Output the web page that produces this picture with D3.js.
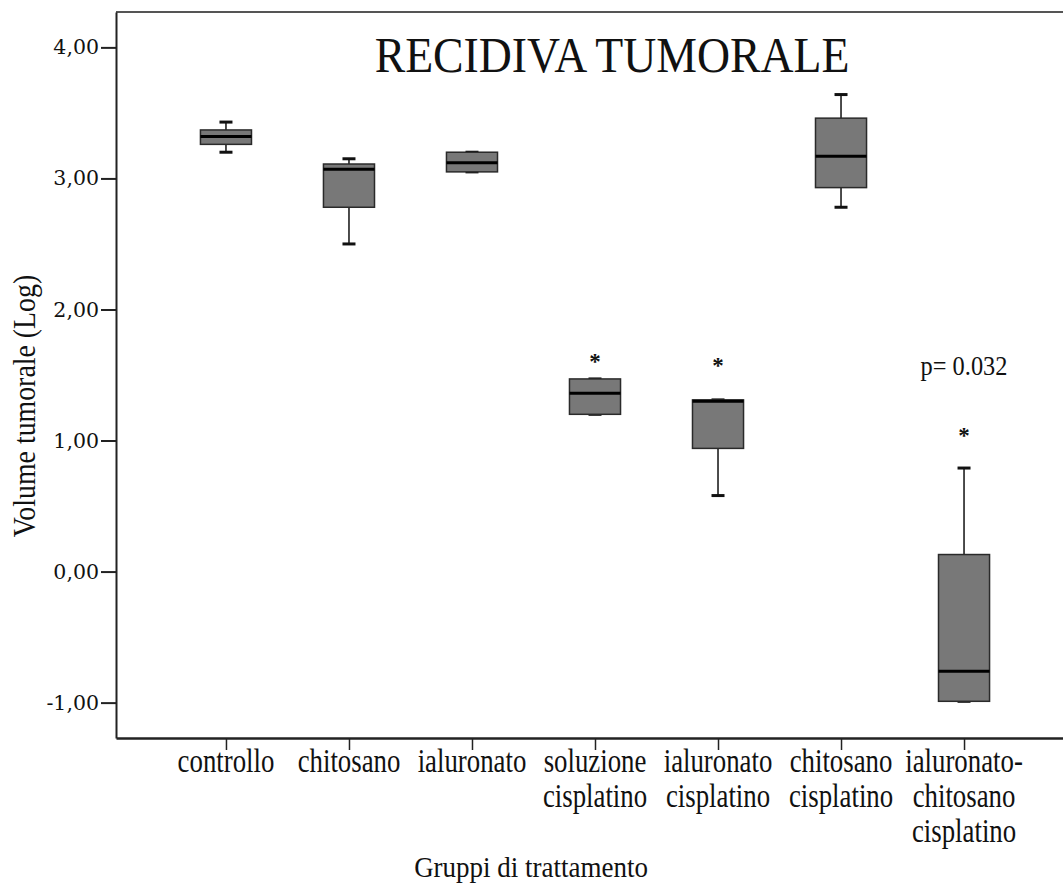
<!DOCTYPE html>
<html>
<head>
<meta charset="utf-8">
<script src="https://cdn.jsdelivr.net/npm/d3@7"></script>
<style>
  html, body { margin: 0; padding: 0; background: #fff; }
  svg { display: block; }
  text { font-family: "Liberation Serif", "Times New Roman", serif; fill: #111; }
</style>
</head>
<body>
<svg id="chart" width="1063" height="883"></svg>
<script>
// Treatment groups (each entry = lines of the axis label)
const categories = [
  ["controllo"],
  ["chitosano"],
  ["ialuronato"],
  ["soluzione", "cisplatino"],
  ["ialuronato", "cisplatino"],
  ["chitosano", "cisplatino"],
  ["ialuronato-", "chitosano", "cisplatino"]
];
const groupNames = categories.map(d => d.join(" "));

// Box plot statistics per group (log tumour volume)
const whiskerLow  = [3.20, 2.50, 3.05, 1.20, 0.58, 2.78, -0.99];
const quartile1   = [3.26, 2.78, 3.05, 1.20, 0.94, 2.93, -0.99];
const medians     = [3.32, 3.07, 3.12, 1.36, 1.30, 3.17, -0.76];
const quartile3   = [3.37, 3.11, 3.20, 1.47, 1.31, 3.46, 0.13];
const whiskerHigh = [3.43, 3.15, 3.20, 1.47, 1.31, 3.64, 0.79];

// Extreme values (drawn as asterisks)
const extremeGroups = [3, 4, 6];
const extremeValues = [1.64, 1.61, 1.07];

// Y-axis ticks
const yTickValues = [-1, 0, 1, 2, 3, 4];
const yTickLabels = ["-1,00", "0,00", "1,00", "2,00", "3,00", "4,00"];

const titleText = "RECIDIVA TUMORALE";
const yAxisTitle = "Volume tumorale (Log)";
const xAxisTitle = "Gruppi di trattamento";
const pLabel = "p= 0.032";
const pLabelValue = 1.5;

const svg = d3.select("#chart");
const plotLeft = 116, plotTop = 12, plotBottom = 738;

const y = d3.scaleLinear().domain([-1.27, 4.27]).range([plotBottom, plotTop]);
const x = d3.scalePoint().domain(groupNames).range([plotLeft, 1074]).padding(0.894);
const boxW = x.step() * 0.415;
const capW = 13;

// Top frame line
svg.append("line")
  .attr("x1", plotLeft).attr("x2", 1074)
  .attr("y1", plotTop).attr("y2", plotTop)
  .attr("stroke", "#555").attr("stroke-width", 2);

// Y axis
const yAxis = svg.append("g")
  .attr("transform", `translate(${plotLeft},0)`)
  .call(d3.axisLeft(y).tickValues(yTickValues)
    .tickFormat((d, i) => yTickLabels[i])
    .tickSize(15).tickSizeOuter(0).tickPadding(2));
yAxis.select(".domain").attr("stroke", "#222").attr("stroke-width", 2);
yAxis.selectAll(".tick line").attr("stroke", "#222").attr("stroke-width", 2);
yAxis.selectAll(".tick text")
  .style("font-family", "'DejaVu Serif', serif")
  .style("font-size", "20.5px").attr("fill", "#1a1a1a");

// X axis
const xAxis = svg.append("g")
  .attr("transform", `translate(0,${plotBottom})`)
  .call(d3.axisBottom(x).tickSize(12).tickSizeOuter(0).tickFormat(""));
xAxis.select(".domain").attr("stroke", "#222").attr("stroke-width", 2.5);
xAxis.selectAll(".tick line").attr("stroke", "#222").attr("stroke-width", 1.5);

// Multi-line category labels (condensed serif)
const labelG = svg.append("g");
categories.forEach((lines, i) => {
  const t = labelG.append("text")
    .attr("text-anchor", "middle")
    .attr("transform", `translate(${x(groupNames[i])},${plotBottom + 34}) scale(0.8,1)`)
    .style("font-size", "33.5px");
  lines.forEach((ln, j) => {
    t.append("tspan").attr("x", 0).attr("dy", j === 0 ? 0 : 35).text(ln);
  });
});

// Boxes
const groups = svg.append("g").selectAll("g")
  .data(groupNames.map((name, i) => ({
    name, lo: whiskerLow[i], q1: quartile1[i], med: medians[i], q3: quartile3[i], hi: whiskerHigh[i]
  })))
  .join("g")
  .attr("transform", d => `translate(${x(d.name)},0)`);

// Whisker stems
groups.append("line")
  .attr("x1", 0).attr("x2", 0)
  .attr("y1", d => y(d.hi)).attr("y2", d => y(d.q3))
  .attr("stroke", "#111").attr("stroke-width", 1.5);
groups.append("line")
  .attr("x1", 0).attr("x2", 0)
  .attr("y1", d => y(d.q1)).attr("y2", d => y(d.lo))
  .attr("stroke", "#111").attr("stroke-width", 1.5);
// Whisker caps
groups.append("line")
  .attr("x1", -capW / 2).attr("x2", capW / 2)
  .attr("y1", d => y(d.hi)).attr("y2", d => y(d.hi))
  .attr("stroke", "#111").attr("stroke-width", 3);
groups.append("line")
  .attr("x1", -capW / 2).attr("x2", capW / 2)
  .attr("y1", d => y(d.lo)).attr("y2", d => y(d.lo))
  .attr("stroke", "#111").attr("stroke-width", 3);
// Box
groups.append("rect")
  .attr("x", -boxW / 2).attr("width", boxW)
  .attr("y", d => y(d.q3))
  .attr("height", d => y(d.q1) - y(d.q3))
  .attr("fill", "#787878").attr("stroke", "#2a2a2a").attr("stroke-width", 1.5);
// Median
groups.append("line")
  .attr("x1", -boxW / 2).attr("x2", boxW / 2)
  .attr("y1", d => y(d.med)).attr("y2", d => y(d.med))
  .attr("stroke", "#000").attr("stroke-width", 3);

// Extreme values
svg.append("g").selectAll("text")
  .data(extremeValues.map((v, i) => ({ g: groupNames[extremeGroups[i]], v })))
  .join("text")
  .attr("text-anchor", "middle")
  .attr("x", d => x(d.g))
  .attr("y", d => y(d.v) + 12)
  .style("font-size", "23px")
  .style("font-weight", "bold")
  .text("*");

// p-value annotation
svg.append("text")
  .attr("text-anchor", "middle")
  .attr("transform", `translate(${x(groupNames[6])},${y(pLabelValue)}) scale(0.92,1)`)
  .style("font-size", "26.5px")
  .text(pLabel);

// Title
svg.append("text")
  .attr("text-anchor", "middle")
  .attr("transform", "translate(612,72) scale(0.915,1)")
  .style("font-size", "50px")
  .text(titleText);

// Axis titles
svg.append("text")
  .attr("text-anchor", "middle")
  .attr("transform", "translate(35,406) rotate(-90) scale(0.87,1)")
  .style("font-size", "32px")
  .text(yAxisTitle);

svg.append("text")
  .attr("text-anchor", "middle")
  .attr("transform", "translate(531,877) scale(0.9,1)")
  .style("font-size", "30px")
  .text(xAxisTitle);
</script>
</body>
</html>
